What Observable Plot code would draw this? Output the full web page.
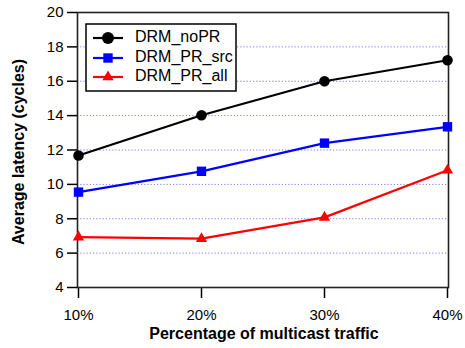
<!DOCTYPE html>
<html><head><meta charset="utf-8">
<script src="https://cdn.jsdelivr.net/npm/d3@7"></script>
<script src="https://cdn.jsdelivr.net/npm/@observablehq/plot@0.6"></script>
<style>html,body{margin:0;padding:0;background:#fff;}</style>
</head><body><div id="chart"></div>
<script>
const categories = ["10%", "20%", "30%", "40%"];
const seriesNames = ["DRM_noPR", "DRM_PR_src", "DRM_PR_all"];
const noPR = [11.68, 14.02, 16.0, 17.22];
const prSrc = [9.55, 10.76, 12.4, 13.35];
const prAll = [6.93, 6.84, 8.08, 10.82];
const yTicks = [4, 6, 8, 10, 12, 14, 16, 18, 20];
const gridValues = [6, 8, 10, 12, 14, 16, 18];
const colors = ["#000000", "#0000ff", "#ff0000"];
const symbols = ["circle", "square", "triangle"];
const radii = [5.3, 5.3, 4.2];

const allSeries = [noPR, prSrc, prAll];
const rows = [];
allSeries.forEach((vals, s) => vals.forEach((v, i) => rows.push({series: seriesNames[s], cat: categories[i], v})));

const lineMarks = seriesNames.map((name, s) =>
  Plot.line(rows.filter(d => d.series === name), {x: "cat", y: "v", stroke: colors[s], strokeWidth: 2.2}));
const dotMarks = seriesNames.map((name, s) =>
  Plot.dot(rows.filter(d => d.series === name), {x: "cat", y: "v", fill: colors[s], stroke: "none", symbol: symbols[s], r: radii[s]}));

const chart = Plot.plot({
  width: 465, height: 348,
  marginLeft: 77, marginRight: 17, marginTop: 12, marginBottom: 61,
  x: {type: "point", domain: categories, padding: 0},
  y: {domain: [4, 20]},
  style: {fontFamily: "'Liberation Sans', Arial, sans-serif", fontSize: "15px", color: "#000", background: "#fff", overflow: "visible"},
  marks: [
    Plot.ruleY(gridValues, {stroke: "#7a7aff", strokeDasharray: "1.2,2", strokeWidth: 1}),
    Plot.axisY({ticks: yTicks, tickSize: 10, tickPadding: 4, label: null, strokeWidth: 1.5}),
    Plot.axisX({tickSize: 11, tickPadding: 11, label: null, strokeWidth: 1.5}),
    Plot.frame({stroke: "#222", strokeWidth: 1.6}),
    ...lineMarks,
    ...dotMarks
  ]
});
document.getElementById("chart").appendChild(chart);

const svg = d3.select(chart);
svg.append("text")
  .attr("transform", "translate(20,152) rotate(-90)")
  .attr("text-anchor", "middle").attr("dominant-baseline", "middle")
  .attr("font-weight", "bold").attr("font-size", 16)
  .text("Average latency (cycles)");
svg.append("text")
  .attr("x", 264).attr("y", 335)
  .attr("text-anchor", "middle").attr("dominant-baseline", "middle")
  .attr("font-weight", "bold").attr("font-size", 16)
  .text("Percentage of multicast traffic");

// Legend
const lg = svg.append("g");
lg.append("rect").attr("x", 86).attr("y", 24).attr("width", 150).attr("height", 67)
  .attr("fill", "#fff").attr("stroke", "#000").attr("stroke-width", 1.5);
const rowY = [38, 58, 77];
seriesNames.forEach((name, s) => {
  const y = rowY[s];
  lg.append("line").attr("x1", 93).attr("x2", 123).attr("y1", y).attr("y2", y)
    .attr("stroke", colors[s]).attr("stroke-width", 2.2);
  const r = s === 0 ? 6 : radii[s];
  lg.append("path")
    .attr("d", d3.symbol(s === 0 ? d3.symbolCircle : s === 1 ? d3.symbolSquare : d3.symbolTriangle, Math.PI * r * r)())
    .attr("transform", `translate(108,${y})`).attr("fill", colors[s]);
  lg.append("text").attr("x", 135).attr("y", y).attr("dominant-baseline", "middle")
    .attr("text-anchor", "start")
    .attr("font-size", 16).text(name);
});
</script>
</body></html>
